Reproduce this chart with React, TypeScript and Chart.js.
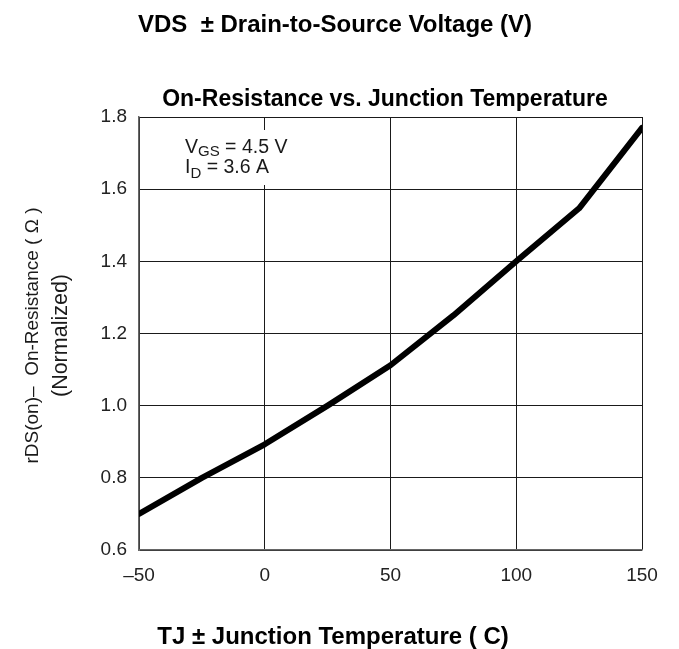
import React, { useEffect, useRef } from "react";
import { Chart, registerables } from "chart.js";

Chart.register(...registerables);

const temperatures = [-50, -25, 0, 25, 50, 75, 100, 125, 150];
const rdsOnNormalized = [0.7, 0.8, 0.893, 1.0, 1.112, 1.25, 1.4, 1.547, 1.77];
const xTicks = [-50, 0, 50, 100, 150];
const yTicks = [0.6, 0.8, 1.0, 1.2, 1.4, 1.6, 1.8];

const topHeading = "VDS  \u00b1 Drain-to-Source Voltage (V)";
const chartTitle = "On-Resistance vs. Junction Temperature";
const xTitle = "TJ \u00b1 Junction Temperature ( C)";
const yTitleLines = ["rDS(on)\u2013  On-Resistance ( \u03a9 )", "(Normalized)"];

const FONT = '"Liberation Sans", Arial, Helvetica, sans-serif';

const textPlugin = {
  id: "textPlugin",
  afterDatasetsDraw(chart: any) {
    const ctx = chart.ctx;
    const area = chart.chartArea;
    ctx.save();
    // annotation white box
    ctx.fillStyle = "#fff";
    ctx.fillRect(area.left + 38, area.top + 13, 122, 55);
    ctx.fillStyle = "#1a1a1a";
    ctx.textBaseline = "alphabetic";
    ctx.textAlign = "left";
    const ax = area.left + 46;
    // line 1: V_GS = 4.5 V
    ctx.font = `19.5px ${FONT}`;
    ctx.fillText("V", ax, area.top + 36);
    let w = ctx.measureText("V").width;
    ctx.font = `15px ${FONT}`;
    ctx.fillText("GS", ax + w, area.top + 39);
    let w2 = ctx.measureText("GS").width;
    ctx.font = `19.5px ${FONT}`;
    ctx.fillText(" = 4.5 V", ax + w + w2, area.top + 36);
    // line 2: I_D = 3.6 A
    ctx.fillText("I", ax, area.top + 56);
    w = ctx.measureText("I").width;
    ctx.font = `15px ${FONT}`;
    ctx.fillText("D", ax + w, area.top + 61);
    w2 = ctx.measureText("D").width;
    ctx.font = `19.5px ${FONT}`;
    ctx.fillText(" = 3.6 A", ax + w + w2, area.top + 56);

    // headings
    ctx.fillStyle = "#000";
    ctx.textAlign = "center";
    ctx.textBaseline = "middle";
    ctx.font = `bold 24px ${FONT}`;
    ctx.fillText(topHeading, 335, 25);
    ctx.font = `bold 23px ${FONT}`;
    ctx.fillText(chartTitle, 385, 100);
    ctx.font = `bold 24px ${FONT}`;
    ctx.fillText(xTitle, 333, 637);

    // y title
    ctx.fillStyle = "#1a1a1a";
    ctx.translate(0, (area.top + area.bottom) / 2 + 2);
    ctx.rotate(-Math.PI / 2);
    ctx.font = `19px ${FONT}`;
    ctx.fillText(yTitleLines[0], 0, 33);
    ctx.font = `21.5px ${FONT}`;
    ctx.fillText(yTitleLines[1], 0, 61);
    ctx.restore();
  },
};

export default function App() {
  const ref = useRef<HTMLCanvasElement | null>(null);
  useEffect(() => {
    if (!ref.current) return;
    const chart = new Chart(ref.current, {
      type: "line",
      data: {
        datasets: [
          {
            data: temperatures.map((t, i) => ({ x: t, y: rdsOnNormalized[i] })),
            borderColor: "#000",
            borderWidth: 6,
            pointRadius: 0,
            tension: 0,
            fill: false,
            borderCapStyle: "round",
            borderJoinStyle: "round",
          },
        ],
      },
      options: {
        responsive: false,
        animation: false,
        events: [],
        layout: { padding: { left: 0, top: 117, right: 37, bottom: 0 } },
        plugins: { legend: { display: false }, tooltip: { enabled: false }, title: { display: false } },
        scales: {
          x: {
            type: "linear",
            min: -50,
            max: 150,
            afterFit: (s: any) => {
              s.height = 99;
            },
            afterBuildTicks: (s: any) => {
              s.ticks = xTicks.map((v) => ({ value: v }));
            },
            grid: { color: "#1a1a1a", lineWidth: 1, drawTicks: false },
            border: { color: "#666", width: 1.5 },
            ticks: {
              padding: 14,
              color: "#222",
              font: { family: FONT, size: 19 },
              maxRotation: 0,
              callback: (v: any) => (Number(v) < 0 ? "\u2013" + Math.abs(Number(v)) : String(v)),
            },
          },
          y: {
            type: "linear",
            min: 0.6,
            max: 1.8,
            afterFit: (s: any) => {
              s.width = 139;
            },
            afterBuildTicks: (s: any) => {
              s.ticks = yTicks.map((v) => ({ value: v }));
            },
            grid: { color: "#1a1a1a", lineWidth: 1, drawTicks: false },
            border: { color: "#666", width: 1.5 },
            ticks: {
              padding: 12,
              color: "#222",
              font: { family: FONT, size: 19 },
              callback: (v: any) => Number(v).toFixed(1),
            },
          },
        },
      },
      plugins: [textPlugin],
    } as any);
    return () => chart.destroy();
  }, []);
  return (
    <div style={{ position: "absolute", left: 0, top: 0, width: 679, height: 649, background: "#fff" }}>
      <canvas ref={ref} width={679} height={649} style={{ width: 679, height: 649, display: "block" }} />
    </div>
  );
}
